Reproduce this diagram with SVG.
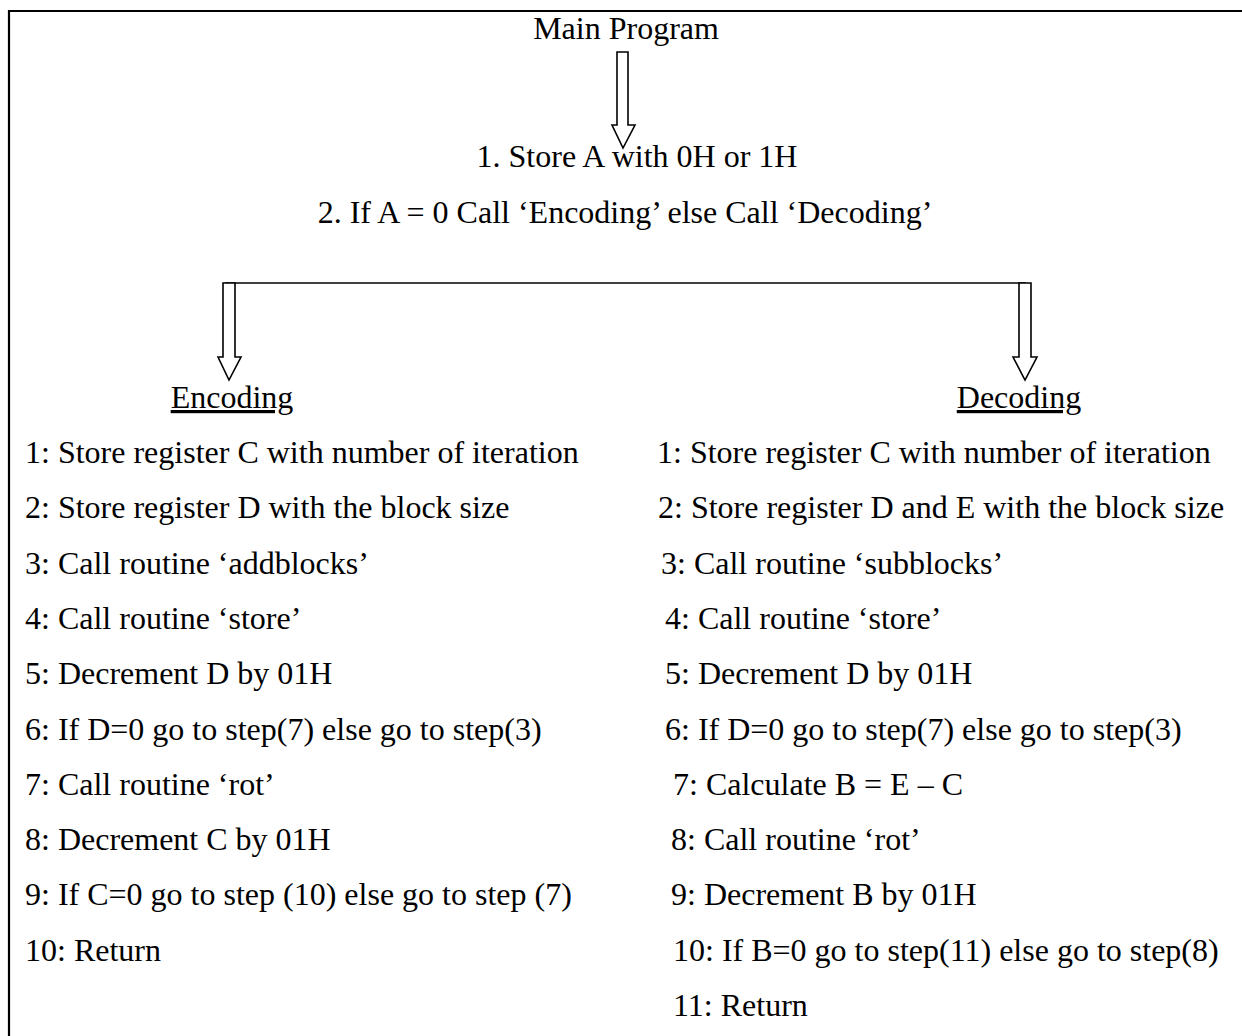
<svg xmlns="http://www.w3.org/2000/svg" width="1242" height="1036" viewBox="0 0 1242 1036">
  <style>
    .t { font-family: "Liberation Serif", "Times New Roman", serif; font-size: 32px; fill: #000; }
    .c { text-anchor: middle; }
    .u { text-decoration: underline; }
    .arrow { fill: #fff; stroke: #000; stroke-width: 1.6; stroke-linejoin: miter; }
    .frame { stroke: #000; stroke-width: 2.2; fill: none; }
    .bar { stroke: #000; stroke-width: 1.3; fill: none; }
  </style>
  <rect width="1242" height="1036" fill="#fff"/>

  <!-- page frame: top and left rules -->
  <g id="frame">
    <line class="frame" x1="8" y1="11" x2="1242" y2="11"/>
    <line class="frame" x1="9" y1="10" x2="9" y2="1036"/>
  </g>

  <!-- main program block -->
  <g id="main">
    <text class="t c" x="626" y="39">Main Program</text>
    <text class="t c" x="637" y="167">1. Store A with 0H or 1H</text>
    <text class="t c" x="625" y="223">2. If A = 0 Call ‘Encoding’ else Call ‘Decoding’</text>
  </g>

  <!-- hollow block arrows and branch rule -->
  <g id="connectors">
    <path class="arrow" d="M617,52 H628 V125 H635 L623,148 L612,125 H617 Z"/>
    <line class="bar" x1="225" y1="283" x2="1026" y2="283"/>
    <path class="arrow" d="M223,283 H235 V357 H241 L229,380 L218,357 H223 Z"/>
    <path class="arrow" d="M1019,283 H1031 V357 H1037 L1025,380 L1013,357 H1019 Z"/>
  </g>

  <!-- encoding routine -->
  <g id="encoding">
    <text class="t c u" x="232" y="408">Encoding</text>
    <text class="t" x="25" y="463">1: Store register C with number of iteration</text>
    <text class="t" x="25" y="518">2: Store register D with the block size</text>
    <text class="t" x="25" y="574">3: Call routine ‘addblocks’</text>
    <text class="t" x="25" y="629">4: Call routine ‘store’</text>
    <text class="t" x="25" y="684">5: Decrement D by 01H</text>
    <text class="t" x="25" y="740">6: If D=0 go to step(7) else go to step(3)</text>
    <text class="t" x="25" y="795">7: Call routine ‘rot’</text>
    <text class="t" x="25" y="850">8: Decrement C by 01H</text>
    <text class="t" x="25" y="905">9: If C=0 go to step (10) else go to step (7)</text>
    <text class="t" x="25" y="961">10: Return</text>
  </g>

  <!-- decoding routine -->
  <g id="decoding">
    <text class="t c u" x="1019" y="408">Decoding</text>
    <text class="t" x="657" y="463">1: Store register C with number of iteration</text>
    <text class="t" x="658" y="518">2: Store register D and E with the block size</text>
    <text class="t" x="661" y="574">3: Call routine ‘subblocks’</text>
    <text class="t" x="665" y="629">4: Call routine ‘store’</text>
    <text class="t" x="665" y="684">5: Decrement D by 01H</text>
    <text class="t" x="665" y="740">6: If D=0 go to step(7) else go to step(3)</text>
    <text class="t" x="673" y="795">7: Calculate B = E – C</text>
    <text class="t" x="671" y="850">8: Call routine ‘rot’</text>
    <text class="t" x="671" y="905">9: Decrement B by 01H</text>
    <text class="t" x="673" y="961">10: If B=0 go to step(11) else go to step(8)</text>
    <text class="t" x="673" y="1016">11: Return</text>
  </g>
</svg>
